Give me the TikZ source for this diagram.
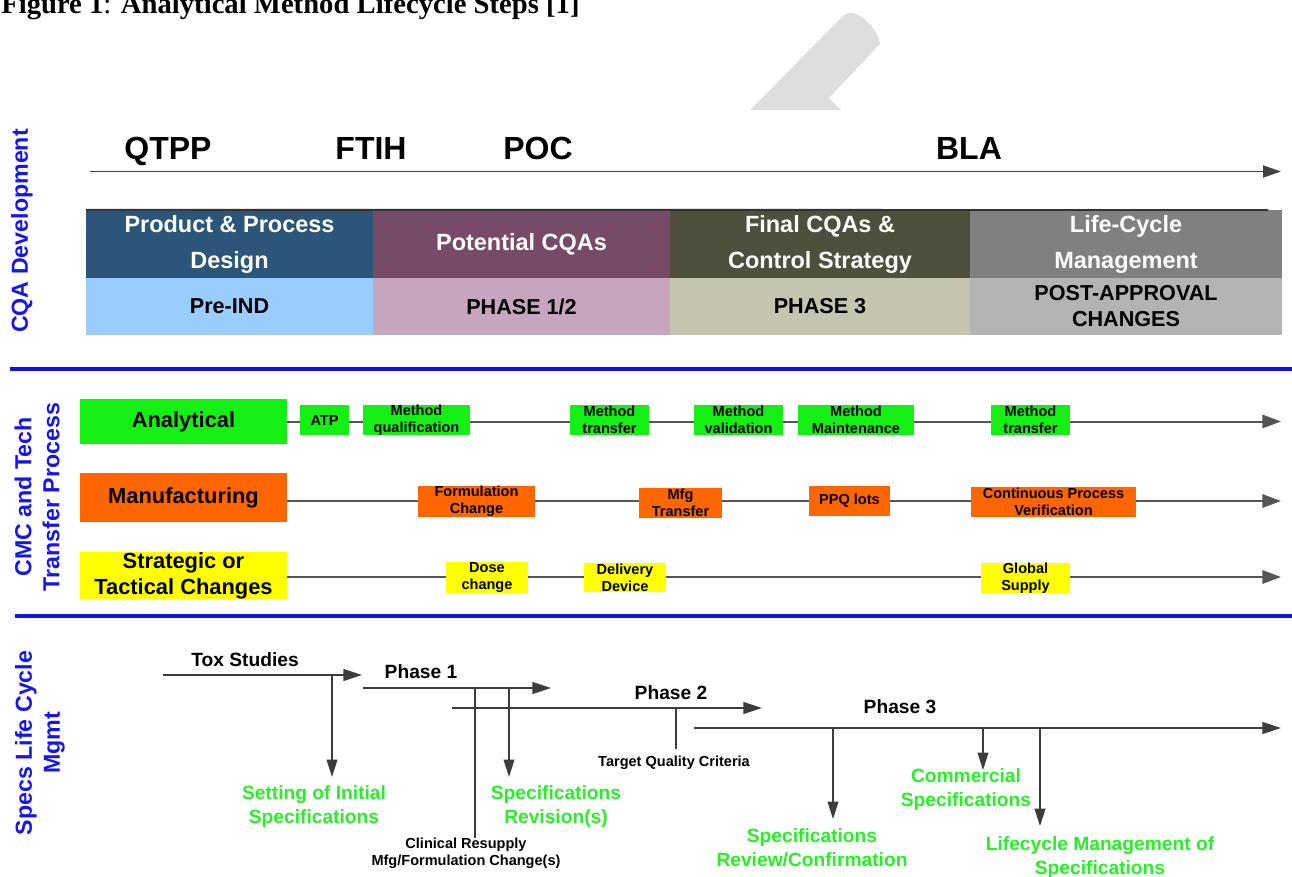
\documentclass[tikz,border=0pt]{standalone}
\usepackage{fontspec}
\setmainfont{Liberation Sans}
\newfontfamily\captionserif{Liberation Serif}
\usetikzlibrary{arrows.meta}

% palette
\definecolor{sideblue}{RGB}{22,22,235}
\definecolor{rulebl}{RGB}{20,20,225}
\definecolor{tlgray}{RGB}{64,64,64}
\definecolor{rowgray}{RGB}{85,85,85}
\definecolor{specgray}{RGB}{60,60,60}
\definecolor{specgreen}{RGB}{40,240,40}
\definecolor{anagreen}{RGB}{20,240,20}
\definecolor{mfgorange}{RGB}{255,102,0}
\definecolor{chgyellow}{RGB}{255,255,0}
\definecolor{ctop}{HTML}{2B5679}
\definecolor{cbot}{HTML}{99CCFF}
\definecolor{dtop}{HTML}{774A67}
\definecolor{dbot}{HTML}{C8A5BE}
\definecolor{etop}{HTML}{4F4F3E}
\definecolor{ebot}{HTML}{C4C4B1}
\definecolor{ftop}{HTML}{808080}
\definecolor{fbot}{HTML}{B3B3B3}
\definecolor{markgray}{HTML}{DEDEDE}

\begin{document}
\begin{tikzpicture}[x=0.75pt,y=-0.75pt,
  timeline/.style={draw=tlgray, line width=1.4pt, -{Triangle[length=13.5pt,width=9pt]}},
  rowline/.style={draw=rowgray, line width=1.5pt, -{Triangle[length=14pt,width=10pt]}},
  specline/.style={draw=specgray, line width=1.1pt},
  hspec/.style={specline, -{Triangle[length=14pt,width=9pt]}},
  vspec/.style={specline, -{Triangle[length=13pt,width=8pt]}},
  bluerule/.style={draw=rulebl, line width=3pt},
  cell/.style={rectangle, inner sep=0pt, outer sep=0pt, align=center},
  hdr/.style={cell, text=white, font=\bfseries\fontsize{17.6}{27}\selectfont, minimum height=51.3pt},
  phasecell/.style={cell, font=\bfseries\fontsize{16.2}{19.5}\selectfont, minimum height=42.75pt},
  milestone/.style={inner sep=0pt, anchor=base, font=\bfseries\fontsize{24}{28}\selectfont},
  sidelabel/.style={rotate=90, align=center, inner sep=0pt, text=sideblue, font=\bfseries\fontsize{17.4}{21}\selectfont},
  rowlabel/.style={cell, font=\bfseries\fontsize{16.4}{19.5}\selectfont, minimum width=155.25pt},
  stepbox/.style={cell, font=\bfseries\fontsize{10.9}{12.75}\selectfont, minimum height=22.5pt},
  greenlbl/.style={align=center, inner sep=0pt, text=specgreen, font=\bfseries\fontsize{14.4}{18}\selectfont},
  phaselbl/.style={inner sep=0pt, font=\bfseries\fontsize{14.4}{17}\selectfont},
  smalllbl/.style={align=center, inner sep=0pt, font=\bfseries\fontsize{10.9}{12.75}\selectfont}]

\useasboundingbox (0,0) rectangle (1292,877);
\clip (0,0) rectangle (1292,877);

% caption (its upper part runs past the top edge)
\node[anchor=base west, inner sep=0pt, font=\captionserif\fontsize{21.5}{24}\selectfont] (caption) at (1,14)
  {\textbf{Figure 1}: \textbf{Analytical Method Lifecycle Steps [1]}};

% grey pencil mark
\fill[markgray] (750,110) -- (844,15) .. controls (856,6) and (878,28) .. (880,44)
  -- (829,98) -- (841,110) -- cycle;

% ---------------- CQA development ----------------
\node[sidelabel] (cqalabel) at (22,231) {CQA Development};

\coordinate (tlS) at (90,171.5);
\coordinate (tlE) at (1281,171.5);
\draw[timeline] (tlS) -- (tlE);

\node[milestone] (qtpp) at (168,160) {QTPP};
\node[milestone] (ftih) at (371,160) {FTIH};
\node[milestone] (poc)  at (538,160) {POC};
\node[milestone] (bla)  at (969,160) {BLA};

\node[hdr, fill=ctop, minimum width=215.6pt] (h1) at (229.5,244) {Product \& Process\\Design};
\node[hdr, fill=dtop, minimum width=223.1pt] (h2) at (521.5,244) {Potential CQAs};
\node[hdr, fill=etop, minimum width=225.4pt] (h3) at (820,244) {Final CQAs \&\\Control Strategy};
\node[hdr, fill=ftop, minimum width=234pt]   (h4) at (1126,244) {Life-Cycle\\Management};

\node[phasecell, fill=cbot, minimum width=215.6pt] (ph1) at (229.5,306.5) {Pre-IND};
\node[phasecell, fill=dbot, minimum width=223.1pt] (ph2) at (521.5,306.5) {PHASE 1/2};
\node[phasecell, fill=ebot, minimum width=225.4pt] (ph3) at (820,306.5) {PHASE 3};
\node[phasecell, fill=fbot, minimum width=234pt]   (ph4) at (1126,306.5) {POST-APPROVAL\\CHANGES};

\coordinate (edgeE) at (1268,210);
\draw[draw=black!80, line width=1.4pt] (h1.north west) -- (edgeE);

% section rules
\coordinate (ruleAw) at (10,369);
\coordinate (ruleAe) at (1292,369);
\coordinate (ruleBw) at (15,616);
\coordinate (ruleBe) at (1292,616);
\draw[bluerule] (ruleAw) -- (ruleAe);
\draw[bluerule] (ruleBw) -- (ruleBe);

% ---------------- CMC and tech transfer ----------------
\node[sidelabel] (cmclabel) at (37,497) {CMC and Tech\\Transfer Process};

\node[rowlabel, fill=anagreen, minimum height=33.75pt] (ana) at (183.5,421.5) {Analytical};
\node[rowlabel, fill=mfgorange, minimum height=36.75pt] (man) at (183.5,497.5) {Manufacturing};
\node[rowlabel, fill=chgyellow, minimum height=33.75pt] (stc) at (183.5,575.5) {Strategic or\\Tactical Changes};

\coordinate (tipA) at (1281,421.5);
\coordinate (tipM) at (1281,501);
\coordinate (tipS) at (1281,577);
\draw[rowline] (ana.east) -- (tipA);
\draw[rowline] (man.east |- tipM) -- (tipM);
\draw[rowline] (stc.east |- tipS) -- (tipS);

% analytical steps
\node[stepbox, fill=anagreen, minimum width=36.75pt] (atp) at (324.5,420) {ATP};
\node[stepbox, fill=anagreen, minimum width=80.25pt] (mq)  at (416.5,420) {Method\\qualification};
\node[stepbox, fill=anagreen, minimum width=59.25pt] (mt1) at (609.5,420) {Method\\transfer};
\node[stepbox, fill=anagreen, minimum width=66.75pt] (mv)  at (738.5,420) {Method\\validation};
\node[stepbox, fill=anagreen, minimum width=87pt]    (mm)  at (856,420)   {Method\\Maintenance};
\node[stepbox, fill=anagreen, minimum width=59.25pt] (mt2) at (1030.5,420) {Method\\transfer};

% manufacturing steps
\node[stepbox, fill=mfgorange, minimum width=87.75pt]  (fc)  at (476.5,501.5) {Formulation\\Change};
\node[stepbox, fill=mfgorange, minimum width=62.25pt]  (mfg) at (680.5,503)   {Mfg\\Transfer};
\node[stepbox, fill=mfgorange, minimum width=60.75pt]  (ppq) at (849.5,501)   {PPQ lots};
\node[stepbox, fill=mfgorange, minimum width=123.75pt] (cpv) at (1053.5,501.5) {Continuous Process\\Verification};

% strategic / tactical steps
\node[stepbox, fill=chgyellow, minimum width=61.5pt, minimum height=21.75pt]  (dose) at (487,577.5)   {Dose\\change};
\node[stepbox, fill=chgyellow, minimum width=61.5pt, minimum height=21.75pt]  (dev)  at (625,577.5)   {Delivery\\Device};
\node[stepbox, fill=chgyellow, minimum width=66.75pt, minimum height=21.75pt] (glob) at (1025.5,578) {Global\\Supply};

% ---------------- specifications life cycle ----------------
\node[sidelabel] (speclabel) at (40,743) {Specs Life Cycle\\Mgmt};

\coordinate (toxS) at (163,675);
\coordinate (toxE) at (362,675);
\coordinate (p1S) at (363,688);
\coordinate (p1E) at (551,688);
\coordinate (p2S) at (452,708);
\coordinate (p2E) at (762,708);
\coordinate (p3S) at (694,728);
\coordinate (p3E) at (1281,728);
\draw[hspec] (toxS) -- (toxE);
\draw[hspec] (p1S) -- (p1E);
\draw[hspec] (p2S) -- (p2E);
\draw[hspec] (p3S) -- (p3E);

\node[phaselbl] (tox) at (245,660) {Tox Studies};
\node[phaselbl] (ph1l) at (421,672) {Phase 1};
\node[phaselbl] (ph2l) at (671,693) {Phase 2};
\node[phaselbl] (ph3l) at (900,707) {Phase 3};

\node[greenlbl] (setting) at (314,807)  {Setting of Initial\\Specifications};
\node[greenlbl] (revis)   at (556,807)  {Specifications\\Revision(s)};
\node[greenlbl] (review)  at (812,848)  {Specifications\\Review/Confirmation};
\node[greenlbl] (comm)    at (966,789.5) {Commercial\\Specifications};
\node[greenlbl] (lcm)     at (1100,857.5) {Lifecycle Management of\\Specifications};

\node[smalllbl] (clin) at (466,853.5) {Clinical Resupply\\Mfg/Formulation Change(s)};
\node[smalllbl] (tqc)  at (674,763)   {Target Quality Criteria};

% drop lines from the phase arrows
\coordinate (d1) at (332,675);  \coordinate (d1e) at (332,777);
\coordinate (d2) at (475,688);
\coordinate (d3) at (509,688);  \coordinate (d3e) at (509,777);
\coordinate (d4) at (676,708);  \coordinate (d4e) at (676,749);
\coordinate (d5) at (833,728);  \coordinate (d5e) at (833,819);
\coordinate (d6) at (983,728);  \coordinate (d6e) at (983,770);
\coordinate (d7) at (1040,728); \coordinate (d7e) at (1040,826);
\draw[vspec] (d1) -- (d1e);
\draw[specline] (d2) -- (d2 |- clin.north);
\draw[vspec] (d3) -- (d3e);
\draw[specline] (d4) -- (d4e);
\draw[vspec] (d5) -- (d5e);
\draw[vspec] (d6) -- (d6e);
\draw[vspec] (d7) -- (d7e);

\end{tikzpicture}
\end{document}
